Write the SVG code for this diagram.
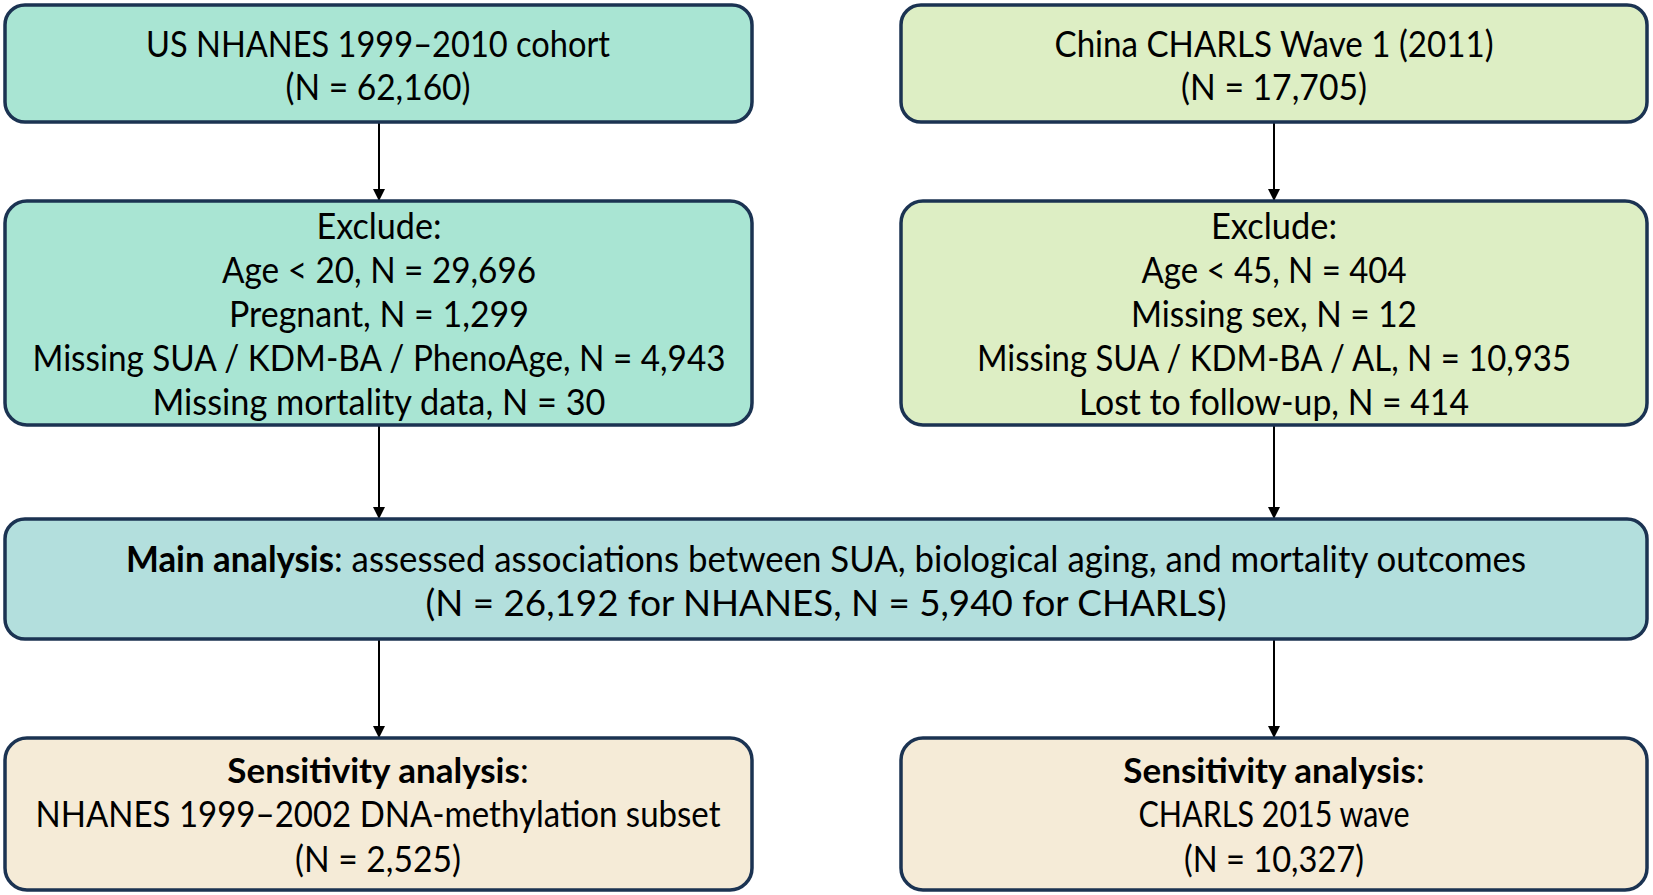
<svg xmlns="http://www.w3.org/2000/svg" width="1653" height="895" viewBox="0 0 1653 895">
<style>
.box{stroke:#1b3352;stroke-width:3.5}
.t{font-family:Lato,"Open Sans","Liberation Sans",sans-serif;font-size:36px;fill:#000;text-anchor:middle}
.s{font-size:35px}
.b{font-weight:bold}
.conn{stroke:#000;stroke-width:2;fill:none}
</style>
<defs>
<marker id="ah" viewBox="0 0 12 12" refX="12" refY="6" markerWidth="12" markerHeight="12" markerUnits="userSpaceOnUse" orient="auto">
<path d="M0,0 L12,6 L0,12 Z" fill="#000"/>
</marker>
</defs>
<rect width="1653" height="895" fill="#fff"/>
<g id="connectors">
<line class="conn" x1="379" y1="122" x2="379" y2="201" marker-end="url(#ah)"/>
<line class="conn" x1="1274" y1="122" x2="1274" y2="201" marker-end="url(#ah)"/>
<line class="conn" x1="379" y1="425" x2="379" y2="519" marker-end="url(#ah)"/>
<line class="conn" x1="1274" y1="425" x2="1274" y2="519" marker-end="url(#ah)"/>
<line class="conn" x1="379" y1="639" x2="379" y2="738" marker-end="url(#ah)"/>
<line class="conn" x1="1274" y1="639" x2="1274" y2="738" marker-end="url(#ah)"/>
</g>
<g id="nhanes">
<rect class="box" x="5" y="5" width="747" height="117" rx="20" fill="#a9e5d3"/>
<text class="t" x="378" y="57" textLength="464" lengthAdjust="spacingAndGlyphs">US NHANES 1999–2010 cohort</text>
<text class="t" x="378" y="100" textLength="185" lengthAdjust="spacingAndGlyphs">(N = 62,160)</text>
</g>
<g id="charls">
<rect class="box" x="901" y="5" width="746" height="117" rx="20" fill="#ddeec4"/>
<text class="t" x="1274" y="57" textLength="439" lengthAdjust="spacingAndGlyphs">China CHARLS Wave 1 (2011)</text>
<text class="t" x="1274" y="100" textLength="186" lengthAdjust="spacingAndGlyphs">(N = 17,705)</text>
</g>
<g id="exclude-nhanes">
<rect class="box" x="5" y="201" width="747" height="224" rx="22" fill="#a9e5d3"/>
<text class="t" x="379" y="239" textLength="125" lengthAdjust="spacingAndGlyphs">Exclude:</text>
<text class="t" x="379" y="283" textLength="314" lengthAdjust="spacingAndGlyphs">Age &lt; 20, N = 29,696</text>
<text class="t" x="379" y="327" textLength="300" lengthAdjust="spacingAndGlyphs">Pregnant, N = 1,299</text>
<text class="t" x="379" y="371" textLength="693" lengthAdjust="spacingAndGlyphs">Missing SUA / KDM-BA / PhenoAge, N = 4,943</text>
<text class="t" x="379" y="415" textLength="453" lengthAdjust="spacingAndGlyphs">Missing mortality data, N = 30</text>
</g>
<g id="exclude-charls">
<rect class="box" x="901" y="201" width="746" height="224" rx="22" fill="#ddeec4"/>
<text class="t" x="1274" y="239" textLength="126" lengthAdjust="spacingAndGlyphs">Exclude:</text>
<text class="t" x="1274" y="283" textLength="265" lengthAdjust="spacingAndGlyphs">Age &lt; 45, N = 404</text>
<text class="t" x="1274" y="327" textLength="286" lengthAdjust="spacingAndGlyphs">Missing sex, N = 12</text>
<text class="t" x="1274" y="371" textLength="594" lengthAdjust="spacingAndGlyphs">Missing SUA / KDM-BA / AL, N = 10,935</text>
<text class="t" x="1274" y="415" textLength="390" lengthAdjust="spacingAndGlyphs">Lost to follow-up, N = 414</text>
</g>
<g id="main">
<rect class="box" x="5" y="519" width="1642" height="120" rx="20" fill="#b3dfdd"/>
<text class="t" x="826" y="572" textLength="1400" lengthAdjust="spacingAndGlyphs"><tspan class="b">Main analysis</tspan>: assessed associations between SUA, biological aging, and mortality outcomes</text>
<text class="t" x="826" y="616" textLength="801" lengthAdjust="spacingAndGlyphs">(N = 26,192 for NHANES, N = 5,940 for CHARLS)</text>
</g>
<g id="sens-nhanes">
<rect class="box" x="5" y="738" width="747" height="152" rx="22" fill="#f5ebd7"/>
<text class="t s" x="378" y="783"><tspan class="b">Sensitivity analysis</tspan>:</text>
<text class="t" x="378" y="827" textLength="685" lengthAdjust="spacingAndGlyphs">NHANES 1999–2002 DNA-methylation subset</text>
<text class="t" x="378" y="872" textLength="166" lengthAdjust="spacingAndGlyphs">(N = 2,525)</text>
</g>
<g id="sens-charls">
<rect class="box" x="901" y="738" width="746" height="152" rx="22" fill="#f5ebd7"/>
<text class="t s" x="1274" y="783"><tspan class="b">Sensitivity analysis</tspan>:</text>
<text class="t" x="1274" y="827" textLength="271" lengthAdjust="spacingAndGlyphs">CHARLS 2015 wave</text>
<text class="t" x="1274" y="872" textLength="180" lengthAdjust="spacingAndGlyphs">(N = 10,327)</text>
</g>
</svg>
